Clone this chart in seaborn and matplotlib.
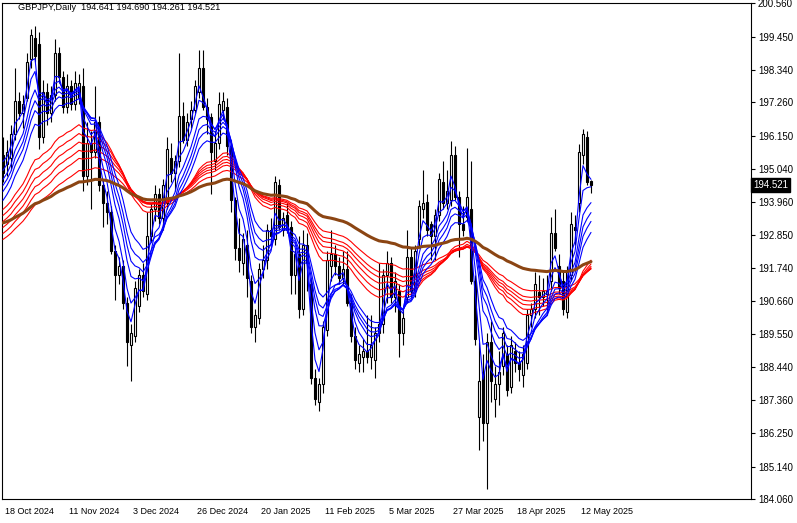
import numpy as np
import pandas as pd
import matplotlib
matplotlib.use("Agg")
import matplotlib.pyplot as plt
import matplotlib.transforms as mtransforms
import seaborn as sns

# ---- candle data (daily GBPJPY, bar index 0 = 18 Oct 2024) ----
opens = [195.5,195.2,195.4,196.2,197.3,196.9,197.4,198.7,199.4,199.2,
         196.1,197.6,196.9,197.5,198.9,198.1,197.1,197.8,197.2,197.4,
         197.8,194.8,195.9,195.6,196.6,194.5,193.9,193.6,192.3,191.5,
         191.8,190.6,189.2,189.5,190.5,191.5,190.9,192.8,193.7,194.2,
         193.4,193.9,195.4,194.9,195.3,196.8,196.0,196.7,197.0,197.6,
         198.4,197.1,196.76,195.3,195.9,197.0,197.1,195.8,194.0,192.4,
         191.9,192.5,191.3,189.8,190.1,191.7,192.0,193.0,192.7,194.5,
         193.0,193.5,193.1,191.5,192.2,190.4,192.5,191.2,188.1,187.3,
         187.9,189.7,191.8,192.2,191.8,191.4,191.7,190.6,189.5,188.6,
         188.8,189.0,188.8,188.7,189.6,189.9,191.5,191.9,190.8,191.0,
         189.6,190.8,192.1,191.0,192.7,193.7,193.96,193.2,192.8,193.5,
         194.6,193.9,194.0,195.5,194.1,193.2,193.46,193.7,191.3,186.8,
         188.3,186.6,189.3,187.4,187.9,188.5,188.9,187.8,189.0,188.6,
         188.2,188.6,190.2,190.4,190.96,190.8,190.9,191.3,192.9,191.8,
         191.3,190.3,191.5,193.1,193.9,195.5,196.1,194.641]
highs = [196.1,196.0,196.5,198.4,197.6,197.5,198.9,199.7,199.8,199.6,
         198.0,197.9,197.8,199.36,199.1,198.3,198.2,198.0,198.3,198.2,
         198.4,196.6,196.3,197.8,196.8,194.7,194.3,193.8,192.5,192.1,
         192.0,190.8,189.9,191.3,191.7,191.9,193.6,193.9,194.5,194.4,
         194.7,196.1,195.9,195.5,198.9,197.26,196.9,197.3,198.0,199.0,
         199.0,197.4,196.9,196.3,197.6,197.6,197.4,196.0,194.1,193.4,
         192.9,193.0,191.5,190.4,191.9,192.5,193.2,193.4,194.8,194.7,
         193.6,193.9,193.3,192.4,192.8,193.0,192.9,191.4,188.4,188.1,
         190.0,192.3,193.0,192.5,192.1,192.3,192.3,190.9,189.8,189.2,
         189.4,190.2,190.2,189.8,191.9,191.7,192.3,192.1,191.6,191.2,
         190.4,193.0,192.4,192.5,194.0,195.0,194.2,193.3,193.7,194.9,
         195.3,195.0,195.96,195.8,194.3,193.8,195.76,195.3,191.5,189.3,
         188.9,189.6,190.0,188.5,189.0,189.8,189.2,189.5,189.3,189.0,
         189.2,190.4,190.6,191.6,191.5,191.4,191.5,193.46,193.7,192.2,
         191.6,191.8,193.6,193.5,195.86,196.36,196.3,194.69]
lows = [194.6,194.8,195.0,196.0,196.7,196.4,197.3,198.4,198.6,195.7,
        195.9,196.5,196.6,197.3,197.9,196.9,196.9,197.0,197.0,197.2,
        194.3,194.5,193.7,195.4,194.3,193.1,193.2,192.2,190.7,191.2,
        190.4,188.5,188.0,189.3,190.3,190.8,190.7,192.6,193.3,193.2,
        193.0,193.7,194.6,194.3,195.1,195.9,195.8,196.4,196.9,197.4,
        197.0,196.2,194.2,195.0,195.7,196.7,195.5,193.6,192.0,191.6,
        191.5,190.8,189.6,189.3,189.9,191.4,191.7,192.5,192.5,193.0,
        192.8,192.9,190.9,190.9,190.1,190.2,191.0,187.9,187.2,187.0,
        187.6,189.5,191.3,191.5,191.2,191.2,190.5,189.3,188.4,188.3,
        188.3,188.6,188.4,188.1,189.3,189.6,190.6,190.6,190.3,188.8,
        189.2,190.6,190.8,190.8,192.4,193.4,192.8,192.0,192.0,193.3,
        193.7,193.7,193.8,194.0,192.1,192.8,193.3,191.2,189.2,185.7,
        186.0,184.4,187.3,186.8,187.2,188.2,187.5,187.6,188.3,188.0,
        187.8,188.4,189.8,190.1,190.2,190.5,190.2,191.0,192.3,190.9,
        190.2,190.1,191.3,192.5,193.6,195.2,194.5,194.261]
closes = [194.9,195.6,196.2,197.3,196.9,197.2,198.6,199.5,198.8,196.1,
          197.6,196.9,197.5,198.9,198.1,197.1,197.8,197.2,197.9,197.9,
          194.8,195.9,195.6,196.6,194.5,193.9,193.6,192.3,191.5,191.8,
          190.6,189.3,189.6,191.1,191.5,191.0,192.8,193.7,194.2,193.4,
          194.5,195.7,194.9,195.3,196.8,196.0,196.6,197.0,197.8,198.4,
          197.1,196.7,195.6,195.9,197.2,197.3,195.8,194.0,192.4,192.0,
          192.7,191.4,189.8,190.2,191.7,192.0,193.0,192.8,194.6,193.1,
          193.4,193.0,191.5,192.2,190.4,192.5,191.9,188.1,187.4,187.9,
          189.8,192.0,192.2,191.8,191.4,191.7,190.6,189.5,188.7,188.9,
          189.0,188.8,189.2,189.6,189.9,191.5,191.9,190.8,191.3,189.6,
          190.1,192.1,191.0,192.3,193.8,193.9,193.0,192.8,193.5,194.7,
          193.9,194.3,195.5,194.1,193.2,193.0,194.1,191.3,189.4,188.0,
          186.6,189.3,188.0,187.9,188.3,189.6,187.7,189.2,188.6,188.4,
          188.9,190.2,190.4,191.2,190.8,191.0,191.0,192.9,192.4,191.1,
          190.4,191.6,193.2,193.0,195.6,196.2,194.6,194.521]

date_labels = ["18 Oct 2024", "11 Nov 2024", "3 Dec 2024", "26 Dec 2024",
               "20 Jan 2025", "11 Feb 2025", "5 Mar 2025", "27 Mar 2025",
               "18 Apr 2025", "12 May 2025"]
date_label_bars = [0, 16, 32, 48, 64, 80, 96, 112, 128, 144]
price_ticks = [200.560, 199.450, 198.340, 197.260, 196.150, 195.040, 193.960,
               192.850, 191.740, 190.660, 189.550, 188.440, 187.360, 186.250,
               185.140, 184.060]

short_periods = [3, 5, 8, 10, 12, 15]
short_seeds = [195.3, 195.0, 194.7, 194.5, 194.3, 194.0]
long_periods = [30, 35, 40, 45, 50, 60]
long_seeds = [193.7, 193.5, 193.3, 193.1, 192.9, 192.7]
trend_period = 100
trend_seed = 193.25

title_text = "GBPJPY,Daily  194.641 194.690 194.261 194.521"
last_price = 194.521


def ema(values, period, seed):
    a = 2.0 / (period + 1)
    out = [seed]
    for v in values[1:]:
        out.append(out[-1] + a * (v - out[-1]))
    return out


sns.set_style("white")
plt.rcParams['font.family'] = ['Liberation Sans', 'DejaVu Sans']

W, H = 797, 523
fig = plt.figure(figsize=(W / 100, H / 100), dpi=100)
ax = fig.add_axes([2 / W, 1 - 499 / H, 749 / W, 496 / H])

idx = np.arange(len(closes))
o = np.array(opens); h = np.array(highs); l = np.array(lows); c = np.array(closes)

# wicks and bodies
ax.vlines(idx, l, h, color="black", lw=0.8, zorder=2)
bull = c >= o
bear = ~bull
hb = np.maximum(np.abs(c - o), 0.03)
ax.bar(idx[bull], hb[bull], bottom=np.minimum(o, c)[bull], width=0.5,
       facecolor="white", edgecolor="black", lw=0.8, zorder=3)
ax.bar(idx[bear], hb[bear], bottom=np.minimum(o, c)[bear], width=0.5,
       facecolor="black", edgecolor="black", lw=0.8, zorder=3)

for p, s in zip(long_periods, long_seeds):
    df = pd.DataFrame({"bar": idx, "value": ema(closes, p, s)})
    sns.lineplot(data=df, x="bar", y="value", color="#ff0000", lw=0.8, ax=ax, zorder=4)
for p, s in zip(short_periods, short_seeds):
    df = pd.DataFrame({"bar": idx, "value": ema(closes, p, s)})
    sns.lineplot(data=df, x="bar", y="value", color="#0000ff", lw=0.8, ax=ax, zorder=5)
df = pd.DataFrame({"bar": idx, "value": ema(closes, trend_period, trend_seed)})
sns.lineplot(data=df, x="bar", y="value", color="#8b4513", lw=2.2, ax=ax, zorder=6)

ax.set_xlim(-0.25, 187.0)
ax.set_ylim(184.06, 200.57)
ax.set_xlabel("")
ax.set_ylabel("")

ax.yaxis.tick_right()
ax.set_yticks(price_ticks)
ax.set_yticklabels([f"{v:.3f}" for v in price_ticks], fontsize=7)
ax.set_xticks(date_label_bars)
ax.set_xticklabels(date_labels, fontsize=6.5)
ax.tick_params(axis="y", direction="out", length=3, width=0.8, pad=2, colors="black")
ax.tick_params(axis="x", direction="out", length=4, width=0.8, pad=2, colors="black")
offset = mtransforms.ScaledTranslation(2 / 100, 0, fig.dpi_scale_trans)
for lab in ax.get_xticklabels():
    lab.set_horizontalalignment("left")
    lab.set_transform(lab.get_transform() + offset)

for sp in ax.spines.values():
    sp.set_visible(True)
    sp.set_color("black")
    sp.set_linewidth(0.8)

ax.text(1.0 + 2 / 749, last_price, f"{last_price:.3f}", transform=ax.get_yaxis_transform(),
        ha="left", va="center", fontsize=7, color="white", zorder=10,
        bbox=dict(boxstyle="square,pad=0.22", facecolor="black", edgecolor="black"))

fig.text(18 / W, 1 - 8 / H, title_text, ha="left", va="center", fontsize=6.6, color="black")

fig.savefig("out.png", dpi=100, facecolor="white")
